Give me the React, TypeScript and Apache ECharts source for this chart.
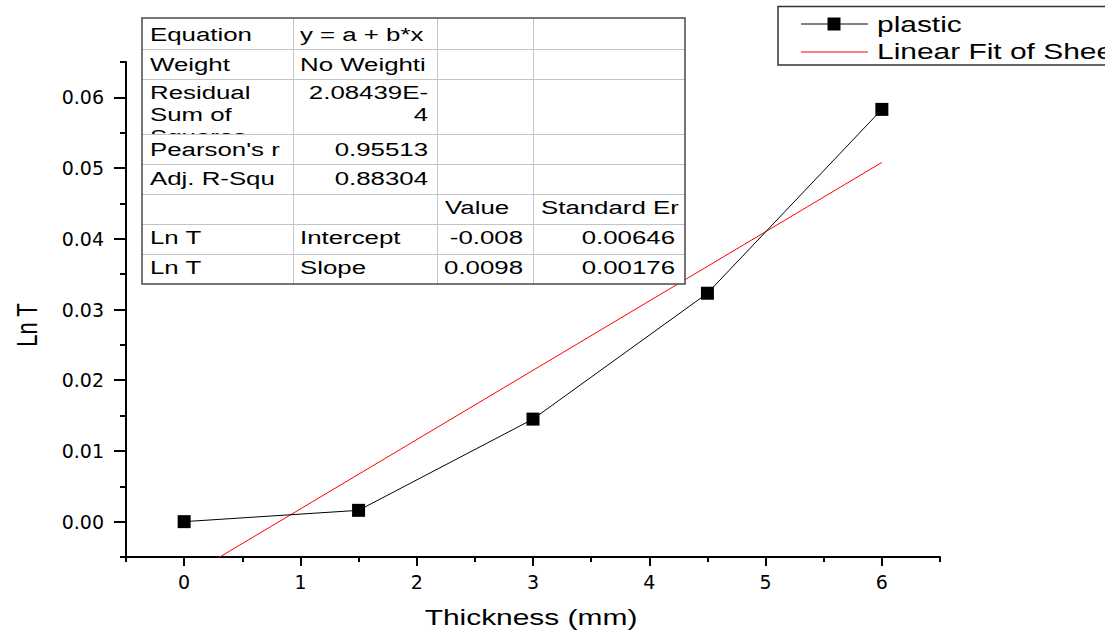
import React, { useEffect, useRef } from "react";
import * as echarts from "echarts";

// Measured points: plate thickness (mm) against Ln T
const thicknessMm = [0, 1.5, 3, 4.5, 6];
const lnT = [0, 0.0016, 0.0145, 0.0323, 0.0583];

// Linear fit y = a + b*x
const fitIntercept = -0.008;
const fitSlope = 0.0098;
const fitRange = [0, 6];

// Axis ticks
const xMajorTicks = [0, 1, 2, 3, 4, 5, 6];
const xMinorTicks = [-0.5, 0.5, 1.5, 2.5, 3.5, 4.5, 5.5, 6.5];
const yMajorTicks = [0, 0.01, 0.02, 0.03, 0.04, 0.05, 0.06];
const yMinorTicks = [-0.005, 0.005, 0.015, 0.025, 0.035, 0.045, 0.055, 0.065];

// Fit report table
const statNames = ["Equation", "Weight", "Residual", "Pearson's r", "Adj. R-Squ"];
const statValues = ["y = a + b*x", "No Weighti", "2.08439E-", "0.95513", "0.88304"];
const residualExtraName = ["Sum of", "Squares"];
const residualExtraValue = "4";
const paramHeader = ["Value", "Standard Er"];
const paramNames = ["Ln T", "Ln T"];
const paramKinds = ["Intercept", "Slope"];
const paramValues = [String(fitIntercept), String(fitSlope)];
const paramErrors = ["0.00646", "0.00176"];

const seriesNames = ["plastic", "Linear Fit of Sheet1 B"];

const FONT = '"Liberation Sans", Arial, sans-serif';
const STRETCH = 1.36;

function txt(text: string, x: number, y: number, size: number, align = "left", extra: any = {}) {
  return {
    type: "text",
    x,
    y,
    scaleX: STRETCH,
    z: 20,
    ...extra,
    style: {
      text,
      fill: "#000",
      fontSize: size,
      fontFamily: FONT,
      align,
      textAlign: align,
      verticalAlign: "middle",
      textVerticalAlign: "middle",
    },
  };
}

function hline(x1: number, x2: number, y: number, color: string, z = 18) {
  return { type: "line", z, shape: { x1, y1: y, x2, y2: y }, style: { stroke: color, lineWidth: 1 } };
}
function vline(x: number, y1: number, y2: number, color: string, z = 18) {
  return { type: "line", z, shape: { x1: x, y1, x2: x, y2 }, style: { stroke: color, lineWidth: 1 } };
}

function buildTable() {
  const left = 142, right = 685, top = 18, bottom = 284;
  const colX = [293, 437, 533];
  const rowLines = [49.5, 79.5, 134.5, 164.5, 194.5, 224.5, 254.5];
  const gridColor = "#c4c4c4";
  const els: any[] = [];
  els.push({ type: "rect", z: 15, shape: { x: left, y: top, width: right - left, height: bottom - top }, style: { fill: "#fff" } });

  const c1 = 150, c2 = 300, c2r = 428, c3 = 445, c3r = 523, c4 = 541, c4r = 675;
  const statY = [34.5, 64, 92, 149, 178.5];

  // third line of the residual label, cut off by the row below
  els.push(txt(residualExtraName[1], c1, 136, 19, "left", { z: 16 }));
  els.push({ type: "rect", z: 17, shape: { x: left + 1, y: 135, width: colX[0] - left - 1.5, height: 29 }, style: { fill: "#fff" } });

  rowLines.forEach((y) => els.push(hline(left, right, y, gridColor)));
  colX.forEach((x) => els.push(vline(x + 0.5, top, bottom, gridColor)));

  statNames.forEach((n, i) => {
    els.push(txt(n, c1, statY[i], 19));
    const v = statValues[i];
    if (i < 2) els.push(txt(v, c2, statY[i], 19));
    else els.push(txt(v, c2r, statY[i], 19, "right"));
  });
  els.push(txt(residualExtraName[0], c1, 114, 19));
  els.push(txt(residualExtraValue, c2r, 114, 19, "right"));

  els.push(txt(paramHeader[0], c3, 207, 19));
  els.push(txt(paramHeader[1], c4, 207, 19));
  const pY = [237.5, 267.5];
  paramNames.forEach((n, i) => {
    els.push(txt(n, c1, pY[i], 19));
    els.push(txt(paramKinds[i], c2, pY[i], 19));
    els.push(txt(paramValues[i], c3r, pY[i], 19, "right"));
    els.push(txt(paramErrors[i], c4r, pY[i], 19, "right"));
  });

  els.push({ type: "rect", z: 21, shape: { x: left, y: top, width: right - left, height: bottom - top }, style: { fill: "none", stroke: "#4a4a4a", lineWidth: 1.5 } });
  return els;
}

function buildLegend() {
  return [
    { type: "rect", z: 15, shape: { x: 778, y: 6.5, width: 380, height: 58.5 }, style: { fill: "#fff", stroke: "#333", lineWidth: 1.5 } },
    { type: "line", z: 16, shape: { x1: 801, y1: 24, x2: 868, y2: 24 }, style: { stroke: "#000", lineWidth: 1 } },
    { type: "rect", z: 17, shape: { x: 827.5, y: 17.5, width: 13, height: 13 }, style: { fill: "#000" } },
    txt(seriesNames[0], 877, 24.5, 22),
    { type: "line", z: 16, shape: { x1: 801, y1: 52, x2: 868, y2: 52 }, style: { stroke: "#ff0000", lineWidth: 1 } },
    txt(seriesNames[1], 877, 51, 22),
    // the exported figure ends a little short of the page edge
    { type: "rect", z: 30, shape: { x: 1105, y: 0, width: 20, height: 80 }, style: { fill: "#fff" } },
  ];
}

export default function App() {
  const ref = useRef<HTMLDivElement>(null);

  useEffect(() => {
    if (!ref.current) return;
    const chart = echarts.init(ref.current, null, { renderer: "svg" });

    const axisFont = { fontSize: 19, fontFamily: '"DejaVu Sans", sans-serif', color: "#000" };
    const axisLine = { show: true, onZero: false, lineStyle: { color: "#000", width: 2 } };

    const option: any = {
      animation: false,
      backgroundColor: "#fff",
      grid: { left: 126, right: 179, top: 62, bottom: 78, containLabel: false },
      xAxis: [
        {
          type: "value",
          min: -0.5,
          max: 6.5,
          position: "bottom",
          axisLine,
          axisTick: { show: true, customValues: xMajorTicks, length: 9, lineStyle: { color: "#000", width: 2 } },
          axisLabel: { ...axisFont, customValues: xMajorTicks, margin: 15, formatter: (v: number) => String(v) },
          splitLine: { show: false },
        },
        {
          type: "value",
          min: -0.5,
          max: 6.5,
          position: "bottom",
          axisLine: { show: false, onZero: false },
          axisTick: { show: true, customValues: xMinorTicks, length: 5, lineStyle: { color: "#000", width: 2 } },
          axisLabel: { show: false },
          splitLine: { show: false },
        },
      ],
      yAxis: [
        {
          type: "value",
          min: -0.005,
          max: 0.065,
          position: "left",
          axisLine,
          axisTick: { show: true, customValues: yMajorTicks, length: 12, lineStyle: { color: "#000", width: 2 } },
          axisLabel: { ...axisFont, customValues: yMajorTicks, margin: 22, formatter: (v: number) => v.toFixed(2) },
          splitLine: { show: false },
        },
        {
          type: "value",
          min: -0.005,
          max: 0.065,
          position: "left",
          axisLine: { show: false, onZero: false },
          axisTick: { show: true, customValues: yMinorTicks, length: 6, lineStyle: { color: "#000", width: 2 } },
          axisLabel: { show: false },
          splitLine: { show: false },
        },
      ],
      series: [
        {
          name: seriesNames[0],
          type: "line",
          xAxisIndex: 0,
          yAxisIndex: 0,
          data: thicknessMm.map((x, i) => [x, lnT[i]]),
          symbol: "rect",
          symbolSize: 13,
          itemStyle: { color: "#000" },
          lineStyle: { color: "#000", width: 1 },
          z: 3,
        },
        {
          name: seriesNames[1],
          type: "line",
          xAxisIndex: 0,
          yAxisIndex: 0,
          clip: true,
          data: fitRange.map((x) => [x, fitIntercept + fitSlope * x]),
          symbol: "none",
          lineStyle: { color: "#ff0000", width: 1 },
          z: 2,
        },
      ],
      graphic: [
        ...buildTable(),
        ...buildLegend(),
        txt("Thickness (mm)", 531, 617, 22, "center"),
        {
          type: "text",
          x: 27,
          y: 325,
          rotation: Math.PI / 2,
          scaleY: STRETCH,
          z: 20,
          style: {
            text: "Ln T",
            fill: "#000",
            fontSize: 22,
            fontFamily: FONT,
            align: "center",
            textAlign: "center",
            verticalAlign: "middle",
            textVerticalAlign: "middle",
          },
        },
      ],
    };

    chart.setOption(option);
    return () => chart.dispose();
  }, []);

  return (
    <div
      ref={ref}
      style={{ position: "fixed", left: 0, top: 0, width: 1119, height: 635, background: "#fff" }}
    />
  );
}
